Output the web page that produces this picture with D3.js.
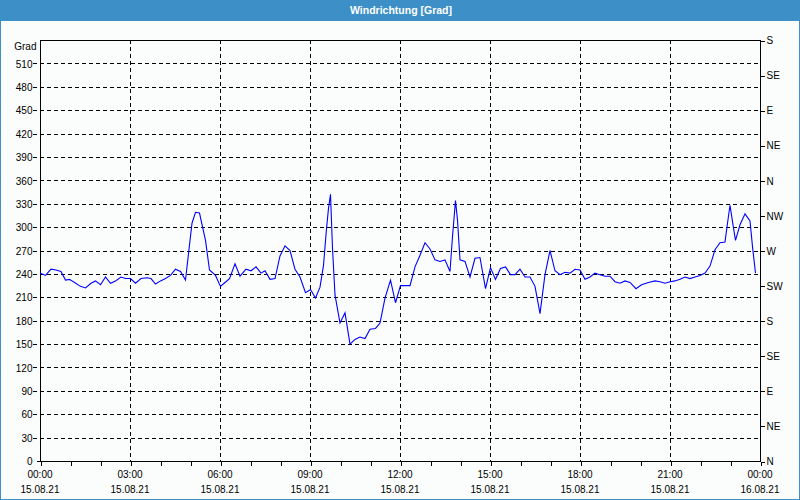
<!DOCTYPE html>
<html><head><meta charset="utf-8">
<script src="https://cdn.jsdelivr.net/npm/d3@7"></script>
<style>
html,body{margin:0;padding:0;background:#fff;}
svg{display:block;}
text{font-family:"Liberation Sans",Arial,sans-serif;}
</style></head>
<body>
<svg id="chart" width="800" height="500"></svg>
<script>
const title = "Windrichtung [Grad]";
const yUnit = "Grad";
// time of each reading in minutes since 15.08.21 00:00
const minutes = [0,11,22,32,42,51,59,69,81,91,102,111,121,131,141,151,162,171,181,191,202,214,222,231,241,251,261,271,281,291,299,304,311,319,331,339,351,361,370,379,390,400,412,422,432,442,450,460,470,480,490,500,510,520,531,541,551,560,567,573,577,581,585,590,600,610,620,630,640,650,660,671,680,690,701,711,721,740,750,760,770,780,790,800,810,820,825,831,835,840,850,860,870,880,891,901,911,921,931,941,950,960,970,980,990,1000,1010,1020,1030,1040,1050,1060,1070,1080,1090,1100,1110,1120,1130,1140,1150,1160,1170,1180,1192,1203,1217,1230,1240,1250,1260,1270,1280,1290,1300,1310,1320,1330,1340,1350,1360,1370,1375,1380,1385,1391,1400,1410,1420,1425,1431];
const values  = [241,238,246,245,243,232,233,229,224,222,228,231,226,236,228,231,236,234,234,228,234,235,234,227,231,234,238,246,243,232,277,305,319,318,283,245,238,224,229,234,253,237,246,244,249,241,244,233,234,263,276,270,246,236,216,220,209,223,251,298,324,342,273,213,177,190,150,156,159,157,169,170,177,209,232,203,225,225,249,264,280,272,258,256,258,243,288,334,309,258,256,236,260,261,221,248,233,247,249,239,239,246,236,236,224,189,239,270,244,239,242,241,246,245,233,236,241,239,237,237,230,228,231,229,221,226,229,231,230,228,230,231,233,236,234,236,238,241,250,271,280,281,305,328,307,283,303,317,308,275,241];
const yTicks = [0,30,60,90,120,150,180,210,240,270,300,330,360,390,420,450,480,510,540];
const dirTicks = [0,45,90,135,180,225,270,315,360,405,450,495,540];
const dirLabels = ["N","NE","E","SE","S","SW","W","NW","N","NE","E","SE","S"];
const hourTicks = d3.range(0, 1441, 60);
const labelTicks = [0,180,360,540,720,900,1080,1260,1440];
const timeLabels = ["00:00","03:00","06:00","09:00","12:00","15:00","18:00","21:00","00:00"];
const dateLabels = ["15.08.21","15.08.21","15.08.21","15.08.21","15.08.21","15.08.21","15.08.21","15.08.21","16.08.21"];

const W = 800, H = 500;
const L = 40, R = 760, T = 40, B = 461;
const blue = "#3c8fc7";
const svg = d3.select("#chart");

svg.append("rect").attr("width", W).attr("height", H).attr("fill", blue);
svg.append("rect").attr("x", 1).attr("y", 21).attr("width", W - 2).attr("height", H - 22).attr("fill", "#fbfdfc");
svg.append("text").attr("x", 401).attr("y", 10).attr("text-anchor", "middle").attr("dominant-baseline", "central")
  .attr("fill", "#fff").attr("font-weight", "bold").attr("font-size", "10.5px").text(title);

const x = d3.scaleLinear().domain([0, 1440]).range([L, R]);
const y = d3.scaleLinear().domain([0, 540]).range([B, T]);

// horizontal grid
svg.append("g").selectAll("line").data(yTicks.filter(d => d > 0 && d < 540)).join("line")
  .attr("x1", L - 7).attr("x2", R).attr("y1", d => Math.round(y(d)) + 0.5).attr("y2", d => Math.round(y(d)) + 0.5)
  .attr("stroke", "#000").attr("stroke-dasharray", "4,3").attr("shape-rendering", "crispEdges");
// vertical grid
svg.append("g").selectAll("line").data(labelTicks.filter(d => d > 0 && d < 1440)).join("line")
  .attr("x1", d => Math.round(x(d)) + 0.5).attr("x2", d => Math.round(x(d)) + 0.5).attr("y1", T).attr("y2", B)
  .attr("stroke", "#000").attr("stroke-dasharray", "4,3").attr("shape-rendering", "crispEdges");

// left axis
const gl = svg.append("g").attr("transform", `translate(${L + 0.5},0.5)`)
  .call(d3.axisLeft(y).tickValues(yTicks).tickSize(0).tickPadding(8).tickFormat(d => d === 540 ? yUnit : d));
gl.select(".domain").remove();
gl.selectAll("text").attr("font-size", "10px").attr("fill", "#000").attr("font-family", "Liberation Sans, Arial, sans-serif")
  .attr("dy", d => d === 540 ? "0.85em" : "0.32em")
  .attr("x", d => d === 540 ? -4 : -8);
svg.append("line").attr("x1", L - 3).attr("x2", L).attr("y1", B + 0.5).attr("y2", B + 0.5).attr("stroke", "#000").attr("shape-rendering", "crispEdges");

// right axis
const gr = svg.append("g").attr("transform", `translate(${R + 0.5},0.5)`)
  .call(d3.axisRight(y).tickValues(dirTicks).tickSize(4).tickPadding(2).tickFormat((d, i) => dirLabels[i]));
gr.select(".domain").remove();
gr.selectAll("line").attr("stroke", "#000").attr("shape-rendering", "crispEdges");
gr.selectAll("text").attr("font-size", "10px").attr("fill", "#000").attr("font-family", "Liberation Sans, Arial, sans-serif");

// bottom axis
const gb = svg.append("g").attr("transform", `translate(0.5,${B + 0.5})`)
  .call(d3.axisBottom(x).tickValues(hourTicks).tickSize(4).tickFormat(""));
gb.select(".domain").remove();
gb.selectAll("line").attr("stroke", "#000").attr("shape-rendering", "crispEdges");
const lab = svg.append("g").attr("font-size", "10px").attr("fill", "#000").attr("text-anchor", "middle");
lab.selectAll("text.t").data(labelTicks).join("text").attr("class", "t")
  .attr("x", d => x(d)).attr("y", 478).text((d, i) => timeLabels[i]);
lab.selectAll("text.d").data(labelTicks).join("text").attr("class", "d")
  .attr("x", d => x(d)).attr("y", 493).text((d, i) => dateLabels[i]);

// frame
svg.append("rect").attr("x", L + 0.5).attr("y", T + 0.5).attr("width", R - L).attr("height", B - T)
  .attr("fill", "none").attr("stroke", "#000").attr("shape-rendering", "crispEdges");

// data line
const pts = minutes.map((m, i) => [m, values[i]]);
svg.append("path").datum(pts)
  .attr("d", d3.line().x(d => x(d[0])).y(d => y(d[1])))
  .attr("fill", "none").attr("stroke", "#0000ff").attr("stroke-width", 1.1);
</script>
</body></html>
